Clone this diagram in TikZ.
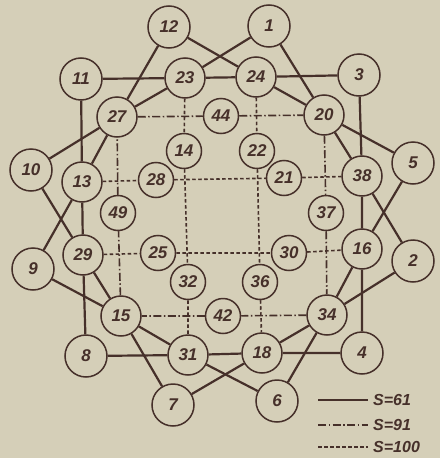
\documentclass[tikz,border=0pt]{standalone}
\usepackage{fontspec}
\setmainfont{Liberation Sans}
\pgfdeclarelayer{bg}
\pgfdeclarelayer{paperlayer}
\pgfsetlayers{paperlayer,bg,main}
\definecolor{paper}{HTML}{D5CFB8}
\definecolor{ink}{HTML}{46302A}
\begin{document}
\begin{tikzpicture}[x=1pt,y=-1pt,
  numfont/.style={font=\fontsize{17}{17}\selectfont\bfseries\itshape,text=ink},
  outer/.style={circle,draw=ink,line width=1.5pt,fill=paper,minimum size=42pt,inner sep=0pt,numfont},
  ring/.style={circle,draw=ink,line width=1.5pt,fill=paper,minimum size=40pt,inner sep=0pt,numfont},
  small/.style={circle,draw=ink,line width=1.5pt,fill=paper,minimum size=35pt,inner sep=0pt,numfont},
  sixtyone/.style={draw=ink,line width=2.2pt},
  ninetyone/.style={draw=ink,line width=1.6pt,dash pattern=on 8pt off 2.5pt on 1.5pt off 2.5pt},
  hundred/.style={draw=ink,line width=1.6pt,dash pattern=on 3.5pt off 2.5pt},
  legtext/.style={anchor=west,inner sep=0pt,font=\fontsize{16}{16}\selectfont\bfseries\itshape,text=ink}]
\begin{pgfonlayer}{paperlayer}
\fill[paper] (0,0) rectangle (440,458);
\end{pgfonlayer}
\useasboundingbox (0,0) rectangle (440,458);
% outer
\node[outer] (n12) at (169,27) {12};
\node[outer] (n1) at (269,26) {1};
\node[outer] (n11) at (81,79) {11};
\node[outer] (n3) at (359,75) {3};
\node[outer] (n10) at (31,170) {10};
\node[outer] (n5) at (413,163) {5};
\node[outer] (n9) at (33,269) {9};
\node[outer] (n2) at (413,261) {2};
\node[outer] (n8) at (86,356) {8};
\node[outer] (n4) at (362,353) {4};
\node[outer] (n7) at (173,405) {7};
\node[outer] (n6) at (277,401) {6};
% ring
\node[ring] (n23) at (185,78) {23};
\node[ring] (n24) at (256,77) {24};
\node[ring] (n27) at (117,117) {27};
\node[ring] (n20) at (324,115) {20};
\node[ring] (n13) at (82,182) {13};
\node[ring] (n38) at (362,176) {38};
\node[ring] (n29) at (83,255) {29};
\node[ring] (n16) at (362,249) {16};
\node[ring] (n15) at (121,316) {15};
\node[ring] (n34) at (327,315) {34};
\node[ring] (n31) at (188,355) {31};
\node[ring] (n18) at (262,353) {18};
% inner
\node[small] (n44) at (221,116) {44};
\node[small] (n14) at (184,151) {14};
\node[small] (n22) at (257,151) {22};
\node[small] (n28) at (156,180) {28};
\node[small] (n21) at (284,178) {21};
\node[small] (n49) at (118,213) {49};
\node[small] (n37) at (326,213) {37};
\node[small] (n25) at (158,253) {25};
\node[small] (n30) at (289,253) {30};
\node[small] (n32) at (188,282) {32};
\node[small] (n36) at (260,282) {36};
\node[small] (n42) at (223,316) {42};
% legend
\coordinate (l1a) at (318,400); \coordinate (l1b) at (368,400);
\coordinate (l2a) at (318,425); \coordinate (l2b) at (368,425);
\coordinate (l3a) at (318,447); \coordinate (l3b) at (368,447);
\node[legtext] (t1) at (373,400) {S=61};
\node[legtext] (t2) at (373,425) {S=91};
\node[legtext] (t3) at (373,447) {S=100};
\begin{pgfonlayer}{bg}
% S=61 lines
\draw[sixtyone] (n11) -- (n23) -- (n24) -- (n3);
\draw[sixtyone] (n1) -- (n20) -- (n38) -- (n2);
\draw[sixtyone] (n3) -- (n38) -- (n16) -- (n4);
\draw[sixtyone] (n5) -- (n16) -- (n34) -- (n6);
\draw[sixtyone] (n2) -- (n34) -- (n18) -- (n7);
\draw[sixtyone] (n4) -- (n18) -- (n31) -- (n8);
\draw[sixtyone] (n6) -- (n31) -- (n15) -- (n9);
\draw[sixtyone] (n7) -- (n15) -- (n29) -- (n10);
\draw[sixtyone] (n8) -- (n29) -- (n13) -- (n11);
\draw[sixtyone] (n9) -- (n13) -- (n27) -- (n12);
\draw[sixtyone] (n10) -- (n27) -- (n23) -- (n1);
\draw[sixtyone] (n12) -- (n24) -- (n20) -- (n5);
% S=91 lines
\draw[ninetyone] (n27) -- (n44) -- (n20);
\draw[ninetyone] (n20) -- (n37) -- (n34);
\draw[ninetyone] (n34) -- (n42) -- (n15);
\draw[ninetyone] (n15) -- (n49) -- (n27);
% S=100 lines
\draw[hundred] (n23) -- (n14) -- (n32) -- (n31);
\draw[hundred] (n24) -- (n22) -- (n36) -- (n18);
\draw[hundred] (n13) -- (n28) -- (n21) -- (n38);
\draw[hundred] (n29) -- (n25) -- (n30) -- (n16);
% legend lines
\draw[sixtyone] (l1a) -- (l1b);
\draw[ninetyone] (l2a) -- (l2b);
\draw[hundred] (l3a) -- (l3b);
\end{pgfonlayer}
\end{tikzpicture}
\end{document}
